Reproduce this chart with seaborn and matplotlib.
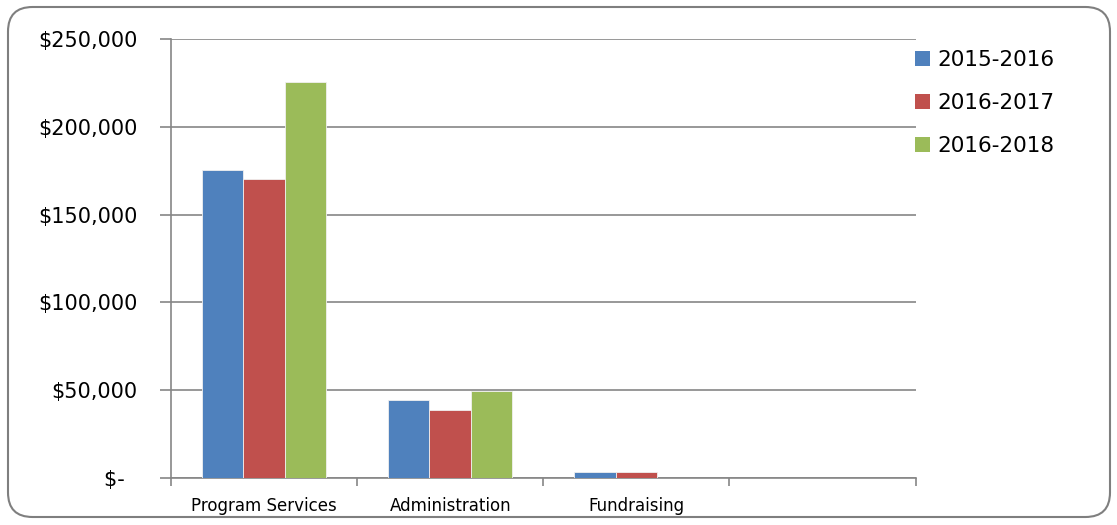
import matplotlib
matplotlib.use("Agg")
import matplotlib.pyplot as plt
import seaborn as sns
import pandas as pd
from matplotlib.patches import FancyBboxPatch, Patch
from matplotlib.ticker import FuncFormatter, FixedLocator

categories = ["Program Services", "Administration", "Fundraising", ""]
series = ["2015-2016", "2016-2017", "2016-2018"]
vals_2015_2016 = [175500, 44400, 3500, 0]
vals_2016_2017 = [170500, 38500, 3500, 0]
vals_2016_2018 = [225700, 49300, 0, 0]
colors = ["#4F81BD", "#C0504D", "#9BBB59"]
yticks = [0, 50000, 100000, 150000, 200000, 250000]

rows = []
for s, vals in zip(series, [vals_2015_2016, vals_2016_2017, vals_2016_2018]):
    for c, v in zip(categories, vals):
        rows.append({"cat": c, "series": s, "value": v})
df = pd.DataFrame(rows)

sns.set_theme(style="white")
plt.rcParams["font.family"] = ["DejaVu Sans"]

W, H = 1117, 525
fig = plt.figure(figsize=(W / 100, H / 100), dpi=100)
ax = fig.add_axes([171 / W, 1 - 478 / H, (915.5 - 171) / W, (478 - 39) / H])

grey = "#868686"

sns.barplot(data=df, x="cat", y="value", hue="series", order=categories,
            hue_order=series, palette=colors, saturation=1, width=0.667, ax=ax,
            edgecolor="#f0f0f0", linewidth=0.6, legend=False, zorder=3)

ax.set_xlim(-0.5, 3.5)
ax.set_ylim(0, 250000)
ax.set_xlabel("")
ax.set_ylabel("")

ax.yaxis.set_major_locator(FixedLocator(yticks))
def fmt(v, pos):
    if v == 0:
        return "$-  "
    return "${:,.0f}".format(v)
ax.yaxis.set_major_formatter(FuncFormatter(fmt))
ax.grid(axis="y", color=grey, linewidth=1.2, zorder=0)
ax.grid(axis="x", visible=False)

ax.set_xticks(range(4))
ax.set_xticklabels(categories, fontsize=12, color="black")
ax.set_xticks([-0.5, 0.5, 1.5, 2.5, 3.5], minor=True)
ax.tick_params(axis="x", which="major", length=0, pad=14)
ax.tick_params(axis="x", which="minor", length=6, width=1.2, color=grey, direction="out")
ax.tick_params(axis="y", which="major", length=8, width=1.2, color=grey,
               direction="out", labelsize=15, pad=16, labelcolor="black")
ax.tick_params(axis="both", bottom=True, left=True)
ax.xaxis.set_tick_params(which="minor", bottom=True)

for side in ["top", "right"]:
    ax.spines[side].set_visible(False)
for side in ["left", "bottom"]:
    ax.spines[side].set_color(grey)
    ax.spines[side].set_linewidth(1.2)

handles = [Patch(facecolor=c, edgecolor="none") for c in colors]
leg = fig.legend(handles, series, loc="upper left", bbox_to_anchor=(906 / W, 1 - 41 / H),
                 frameon=False, fontsize=15.5, handlelength=0.7, handleheight=0.7,
                 handletextpad=0.35, labelspacing=1.08, borderaxespad=0)
for t in leg.get_texts():
    t.set_color("black")

frame = FancyBboxPatch((8 / W, 8 / H), (1110 - 8) / W, (518 - 8) / H,
                       boxstyle="round,pad=0,rounding_size=0.022",
                       transform=fig.transFigure, facecolor="none",
                       edgecolor="#7f7f7f", linewidth=1.5,
                       mutation_aspect=W / H)
fig.patches.append(frame)

fig.savefig("out.png", dpi=100)
